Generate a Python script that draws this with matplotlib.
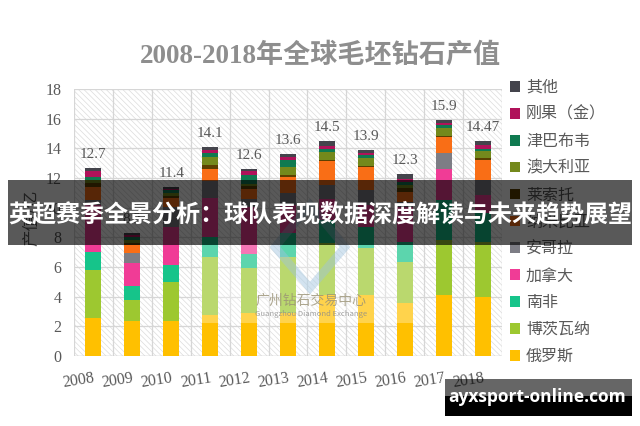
import numpy as np
import matplotlib
matplotlib.use("Agg")
import matplotlib.pyplot as plt
from matplotlib.patches import Rectangle, Polygon

# ---------------- data ----------------
years = ['2008', '2009', '2010', '2011', '2012', '2013', '2014', '2015', '2016', '2017', '2018']
series_names = ['俄罗斯', '博茨瓦纳', '南非', '加拿大', '安哥拉', '纳米比亚',
                '莱索托', '澳大利亚', '津巴布韦', '刚果（金）', '其他']
russia       = [2.54, 2.38, 2.38, 2.77, 2.88, 2.88, 4.10, 4.10, 3.60, 4.12, 4.00]
botswana     = [3.26, 1.40, 2.63, 3.89, 3.04, 3.82, 3.50, 3.20, 2.76, 3.68, 3.70]
south_africa = [1.24, 0.94, 1.13, 1.39, 0.96, 1.60, 1.58, 1.40, 1.34, 2.73, 1.93]
canada       = [3.15, 1.54, 2.58, 2.59, 3.19, 1.89, 1.39, 1.50, 2.37, 2.09, 1.23]
angola       = [0.30, 0.67, 1.30, 1.16, 0.50, 0.79, 0.97, 1.00, 0.34, 1.06, 1.02]
namibia      = [0.90, 0.56, 0.60, 0.80, 0.68, 1.12, 1.60, 1.53, 0.67, 1.08, 1.35]
lesotho      = [0.30, 0.15, 0.20, 0.30, 0.20, 0.11, 0.10, 0.10, 0.22, 0.10, 0.10]
australia    = [0.20, 0.20, 0.15, 0.50, 0.15, 0.52, 0.48, 0.50, 0.20, 0.50, 0.46]
zimbabwe     = [0.20, 0.20, 0.20, 0.30, 0.61, 0.50, 0.23, 0.20, 0.20, 0.23, 0.16]
drc          = [0.36, 0.13, 0.10, 0.20, 0.23, 0.18, 0.22, 0.15, 0.20, 0.15, 0.29]
other        = [0.25, 0.10, 0.13, 0.20, 0.16, 0.19, 0.33, 0.22, 0.40, 0.16, 0.23]
total_labels = ['12.7', '8.3', '11.4', '14.1', '12.6', '13.6', '14.5', '13.9', '12.3', '15.9', '14.47']
yticks = [0, 2, 4, 6, 8, 10, 12, 14, 16, 18]

series_values = [russia, botswana, south_africa, canada, angola, namibia,
                 lesotho, australia, zimbabwe, drc, other]
colors = ['#FFC000', '#9DC830', '#16C48A', '#F03C96', '#7D7D85', '#F96E16',
          '#5C4000', '#74891C', '#0F7A50', '#B0125A', '#44444C']

W, H = 640, 426
def fx(px): return px / W
def fy(py): return 1 - py / H

plt.rcParams['font.family'] = ['Noto Sans CJK SC', 'DejaVu Sans']
plt.rcParams['hatch.linewidth'] = 0.5

fig = plt.figure(figsize=(6.4, 4.26), dpi=100)
fig.patch.set_facecolor('white')
ax = fig.add_axes([fx(74), fy(356), (502 - 74) / W, (356 - 89) / H])

x = np.arange(len(years))
ax.set_xlim(-0.5, len(years) - 0.5)
ax.set_ylim(0, 18)

# hatched background
bg = Rectangle((0, 0), 1, 1, transform=ax.transAxes, facecolor='white',
               edgecolor='#DCDCDC', hatch='\\\\\\\\\\\\', linewidth=0, zorder=0)
ax.add_patch(bg)
ax.set_facecolor('white')

for s in ax.spines.values():
    s.set_visible(False)
ax.set_yticks(yticks)
ax.set_xticks(x)
ax.set_xticks(np.arange(-0.5, len(years)), minor=True)
ax.grid(axis='y', which='major', color='#D6D6D6', linewidth=0.9, zorder=0.5)
ax.grid(axis='x', which='minor', color='#D6D6D6', linewidth=0.9, zorder=0.5)
ax.grid(axis='x', which='major', visible=False)
ax.set_axisbelow(True)
ax.axhline(0, color='#D0D0D0', linewidth=1.0, zorder=0.6)

bottom = np.zeros(len(years))
handles = []
for name, vals, c in zip(series_names, series_values, colors):
    b = ax.bar(x, vals, width=0.41, bottom=bottom, color=c, label=name,
               zorder=2, linewidth=0)
    handles.append(b)
    bottom = bottom + np.array(vals)

for xi, top, lab in zip(x, bottom, total_labels):
    ax.annotate(lab, (xi, top), xytext=(0, 5), textcoords='offset points',
                ha='center', va='bottom', fontsize=11, color='#595959',
                family=['Liberation Serif', 'DejaVu Serif'], zorder=3)

ax.tick_params(axis='both', which='both', length=0)
ax.tick_params(axis='y', pad=9, labelsize=11.5, labelcolor='#595959')
ax.tick_params(axis='x', pad=10, labelsize=11.5, labelcolor='#595959')
ax.set_yticklabels([str(v) for v in yticks], family=['Liberation Serif'])
ax.set_xticklabels(years, family=['Liberation Serif'], rotation=9,
                   ha='right', rotation_mode='anchor')

# legend (top of stack first)
leg = ax.legend(handles[::-1], series_names[::-1], loc='upper left',
                bbox_to_anchor=(fx(510), fy(79)), bbox_transform=fig.transFigure,
                frameon=False, fontsize=11.5, labelspacing=0.62,
                handlelength=0.65, handleheight=0.65, handletextpad=0.35,
                borderaxespad=0, borderpad=0)
for t in leg.get_texts():
    t.set_color('#595959')

# title
fig.text(0.5, fy(56), '2008-2018年全球毛坯钻石产值', ha='center', va='center',
         fontsize=19.5, color='#8E8E8E', fontweight='bold',
         family=['Liberation Serif', 'Noto Sans CJK SC'])

# y label
fig.text(fx(31), fy(218), '产值/亿', rotation=90, ha='center', va='center',
         fontsize=12, color='#595959')

# watermark (light box, logo, text)
fig.add_artist(Rectangle((fx(200), fy(323)), (420 - 200) / W, (323 - 245) / H,
                         transform=fig.transFigure, facecolor='white', alpha=0.3,
                         linewidth=0, zorder=4))
logo = Polygon([(fx(310), fy(205)), (fx(345), fy(247)), (fx(310), fy(288)), (fx(275), fy(247))],
               closed=True, transform=fig.transFigure, fill=False,
               edgecolor='#9EC3DE', linewidth=6, alpha=0.45, zorder=4)
fig.add_artist(logo)
fig.text(fx(311), fy(301), '广州钻石交易中心', ha='center', va='center', fontsize=10,
         color='#9A9275', alpha=0.8, zorder=4)
fig.text(fx(311), fy(314), 'Guangzhou Diamond Exchange', ha='center', va='center',
         fontsize=5.5, color='#8A8A8A', alpha=0.8, zorder=4)

# overlay banner
fig.add_artist(Rectangle((fx(8), fy(245)), (632 - 8) / W, (245 - 180) / H,
                         transform=fig.transFigure, facecolor='black', alpha=0.65,
                         linewidth=0, zorder=10))
fig.text(fx(320), fy(214), '英超赛季全景分析：球队表现数据深度解读与未来趋势展望',
         ha='center', va='center', fontsize=17.3, color='white', fontweight='bold',
         zorder=11)

# bottom-right badge
fig.add_artist(Rectangle((fx(445), fy(396)), (632 - 445) / W, (396 - 379) / H,
                         transform=fig.transFigure, facecolor='black', alpha=0.6,
                         linewidth=0, zorder=10))
fig.add_artist(Rectangle((fx(445), fy(416)), (632 - 445) / W, (416 - 396) / H,
                         transform=fig.transFigure, facecolor='black', alpha=1.0,
                         linewidth=0, zorder=10))
fig.text(fx(537), fy(397), 'ayxsport-online.com', ha='center', va='center',
         fontsize=12.5, color='white', fontweight='bold',
         family=['Open Sans', 'DejaVu Sans'], zorder=11)

fig.savefig('out.png', dpi=100, facecolor='white')
